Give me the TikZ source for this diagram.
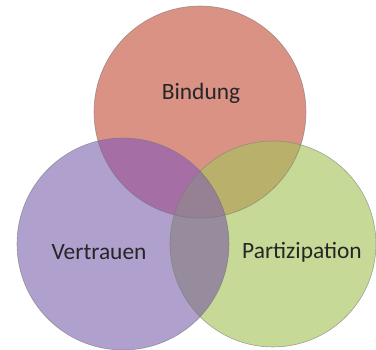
\documentclass[tikz,border=0pt]{standalone}
\usepackage{fontspec}
\setmainfont{Carlito}
\usepackage{tikz}

\definecolor{bindcol}{RGB}{218,146,132}
\definecolor{vertcol}{RGB}{176,160,205}
\definecolor{partcol}{RGB}{199,217,150}
\definecolor{bvcol}{RGB}{165,110,165}
\definecolor{bpcol}{RGB}{185,176,108}
\definecolor{vpcol}{RGB}{150,140,158}
\definecolor{allcol}{RGB}{150,128,148}

\begin{document}
\begin{tikzpicture}[x=1pt, y=-1pt]
    \tikzstyle{rim} = [draw=black!55, line width=0.6pt, draw opacity=0.6];
    \tikzstyle{label} = [font=\fontsize{23.4}{28}\selectfont, text=black!85];
    \useasboundingbox (0,0) rectangle (376,350);
    \coordinate (cb) at (200,112);
    \coordinate (cv) at (123,244);
    \coordinate (cp) at (273,244);
    \fill[bindcol] (cb) circle[radius=106pt];
    \fill[vertcol] (cv) circle[radius=106pt];
    \fill[partcol] (cp) circle[radius=103pt];
    \begin{scope}
        \clip (cb) circle[radius=106pt];
        \fill[bvcol] (cv) circle[radius=106pt];
        \fill[bpcol] (cp) circle[radius=103pt];
    \end{scope}
    \begin{scope}
        \clip (cv) circle[radius=106pt];
        \fill[vpcol] (cp) circle[radius=103pt];
        \clip (cb) circle[radius=106pt];
        \fill[allcol] (cp) circle[radius=103pt];
    \end{scope}
    \path[rim] (cb) circle[radius=106pt];
    \path[rim] (cv) circle[radius=106pt];
    \path[rim] (cp) circle[radius=103pt];
    \node[label] (bindung) at (201,93) {Bindung};
    \node[label] (vertrauen) at (99,252) {Vertrauen};
    \node[label] (partizipation) at (302,252) {Partizipation};
\end{tikzpicture}
\end{document}
